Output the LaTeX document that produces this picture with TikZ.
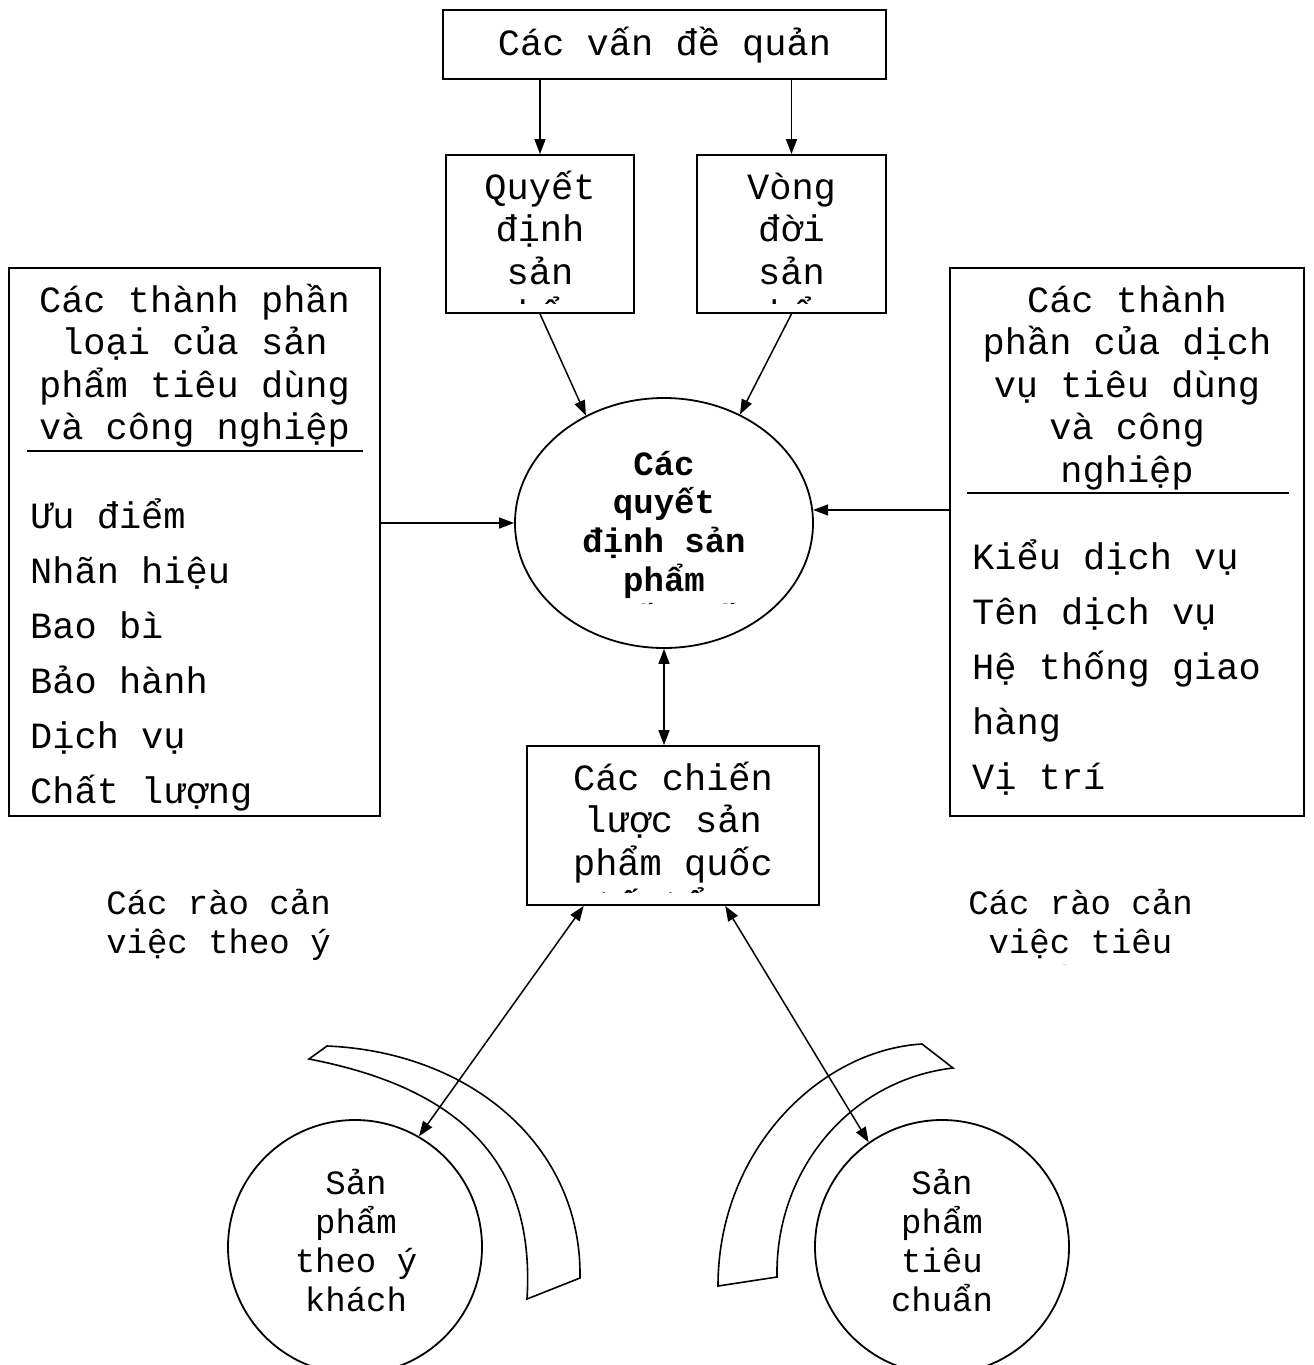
\documentclass[tikz,border=0pt]{standalone}
\usepackage{fontspec}
\setmainfont{Liberation Mono}
\usetikzlibrary{arrows.meta,shapes.geometric}
\newcommand{\bigtxt}{\fontsize{37}{42.5}\selectfont}
\newcommand{\midtxt}{\fontsize{34}{39}\selectfont}
\newcommand{\listtxt}{\fontsize{37}{55}\selectfont}
\newcommand{\elltxt}{\fontsize{34}{38.7}\selectfont\bfseries}
% full-width spaces inside aligned nodes
\newcommand{\wsp}{\spaceskip=0.6em\xspaceskip=0.6em\relax}

\begin{document}
\begin{tikzpicture}[x=1pt,y=-1pt,
    box/.style={draw,rectangle,line width=1.8pt,inner sep=0pt},
    txt/.style={inner sep=0pt,anchor=base,align=center,text width=#1},
    lst/.style={inner sep=0pt,anchor=base west,align=left,text width=#1,font=\listtxt},
    conn/.style={line width=1.5pt,-{Triangle[length=15pt,width=11pt]}},
    both/.style={line width=1.5pt,{Triangle[length=15pt,width=11pt]}-{Triangle[length=15pt,width=11pt]}}]
  \useasboundingbox (0,0) rectangle (1314,1365);

  % boxes
  \node[box,minimum width=443pt,minimum height=69pt] (issues) at (664.5,44.5) {};
  \node[box,minimum width=188pt,minimum height=158pt] (quyet) at (540,234) {};
  \node[box,minimum width=189pt,minimum height=158pt] (vong) at (791.5,234) {};
  \node[box,minimum width=371pt,minimum height=548pt] (goods) at (194.5,542) {};
  \node[box,minimum width=354pt,minimum height=548pt] (services) at (1127,542) {};
  \node[box,minimum width=292pt,minimum height=159pt] (intl) at (673,825.5) {};
  \node[draw,ellipse,line width=1.8pt,inner sep=0pt,minimum width=298pt,minimum height=250pt] (decis) at (664,523) {};
  \node[draw,circle,line width=1.8pt,inner sep=0pt,minimum size=254pt] (custom) at (355,1247) {};
  \node[draw,circle,line width=1.8pt,inner sep=0pt,minimum size=254pt] (standard) at (942,1247) {};

  % texts
  \node[txt=420pt,font=\bigtxt] (issuestxt) at (664.5,55) {\wsp Các vấn đề quản};
  \begin{scope}
    \clip (446,155) rectangle (634,303);
    \node[txt=180pt,font=\bigtxt] (quyettxt) at (540,199) {Quyết\\định\\sản\\phẩm};
  \end{scope}
  \begin{scope}
    \clip (697,155) rectangle (886,303);
    \node[txt=180pt,font=\bigtxt] (vongtxt) at (791.5,199) {Vòng\\đời\\sản\\phẩm};
  \end{scope}
  \node[txt=360pt,font=\bigtxt] (goodstxt) at (194.5,312) {\wsp Các thành phần\\loại của sản\\phẩm tiêu dùng\\và công nghiệp};
  \draw[line width=1.5pt] (27,451) -- (363,451);
  \node[lst=330pt] (goodslist) at (30,528) {\wsp Ưu điểm\\Nhãn hiệu\\Bao bì\\Bảo hành\\Dịch vụ\\Chất lượng};
  \node[txt=340pt,font=\bigtxt] (servicestxt) at (1127,312) {\wsp Các thành\\phần của dịch\\vụ tiêu dùng\\và công\\nghiệp};
  \draw[line width=1.5pt] (967,493) -- (1289,493);
  \node[lst=320pt] (serviceslist) at (972,569) {\wsp Kiểu dịch vụ\\Tên dịch vụ\\Hệ thống giao\\hàng\\Vị trí};
  \begin{scope}
    \clip (515,398) rectangle (813,603);
    \node[txt=280pt,font=\elltxt] (decistxt) at (664,475) {\wsp Các\\quyết\\định sản\\phẩm\\quốc tế};
  \end{scope}
  \begin{scope}
    \clip (527,746) rectangle (819,892);
    \node[txt=285pt,font=\bigtxt] (intltxt) at (673,790) {\wsp Các chiến\\lược sản\\phẩm quốc\\tế tổng};
  \end{scope}
  \node[txt=270pt,font=\midtxt] (barrierl) at (218.5,914) {\wsp Các rào cản\\việc theo ý};
  \begin{scope}
    \clip (940,870) rectangle (1220,964);
    \node[txt=270pt,font=\midtxt] (barrierr) at (1080.5,914) {\wsp Các rào cản\\việc tiêu\\chuẩn hóa};
  \end{scope}
  \node[txt=240pt,font=\midtxt] (customtxt) at (356,1194) {\wsp Sản\\phẩm\\theo ý\\khách};
  \node[txt=240pt,font=\midtxt] (standardtxt) at (942,1194) {Sản\\phẩm\\tiêu\\chuẩn};

  % barrier bands
  \draw[line width=1.6pt] (327,1046) .. controls (470,1052) and (582,1145) .. (580,1278) -- (527,1299)
    .. controls (535,1170) and (470,1090) .. (309,1059) -- cycle;
  \draw[line width=1.6pt] (922,1044) .. controls (820,1050) and (718,1150) .. (718,1286) -- (777,1277)
    .. controls (775,1170) and (850,1080) .. (953,1068) -- cycle;

  % arrows
  \draw[conn] (issues.south -| quyet.north) -- (quyet.north);
  \draw[conn] (issues.south -| vong.north) -- (vong.north);
  \draw[conn] (quyet.south) -- (decis.126);
  \draw[conn] (vong.south) -- (decis.55);
  \draw[conn] (decis.west -| goods.east) -- (decis.west);
  \draw[conn] (decis.5 -| services.west) -- (decis.5);
  \draw[both] (decis.south) -- (decis.south |- intl.north);
  \draw[both] (intl.222) -- (custom.60);
  \draw[both] (intl.303) -- (standard.125);
\end{tikzpicture}
\end{document}
